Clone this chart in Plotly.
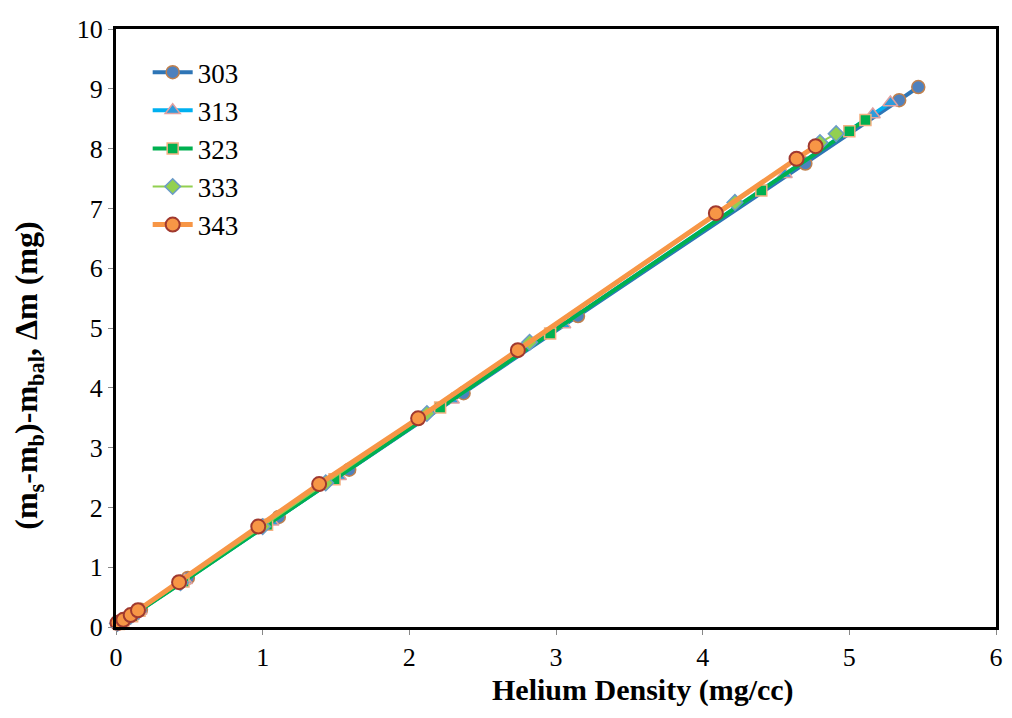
import plotly.graph_objects as go

# Helium density (mg/cc) and (ms-mb)-mbal, Δm (mg) per temperature
x_303 = [0.02, 0.06, 0.12, 0.17, 0.49, 1.11, 1.59, 2.37, 3.15, 4.70, 5.34, 5.47]
y_303 = [0.06, 0.12, 0.21, 0.29, 0.82, 1.84, 2.63, 3.91, 5.20, 7.75, 8.81, 9.03]

x_313 = [0.02, 0.05, 0.11, 0.16, 0.47, 1.06, 1.52, 2.29, 3.05, 4.56, 5.16, 5.28]
y_313 = [0.05, 0.10, 0.19, 0.27, 0.78, 1.76, 2.52, 3.80, 5.06, 7.57, 8.57, 8.77]

x_323 = [0.02, 0.05, 0.11, 0.16, 0.46, 1.03, 1.49, 2.21, 2.96, 4.40, 5.00, 5.11]
y_323 = [0.05, 0.10, 0.18, 0.27, 0.76, 1.71, 2.47, 3.67, 4.91, 7.30, 8.29, 8.48]

x_333 = [0.01, 0.05, 0.10, 0.15, 0.44, 1.00, 1.43, 2.12, 2.82, 4.22, 4.80, 4.91]
y_333 = [0.06, 0.10, 0.18, 0.26, 0.74, 1.68, 2.41, 3.57, 4.76, 7.10, 8.10, 8.25]

x_343 = [0.01, 0.05, 0.10, 0.15, 0.43, 0.97, 1.385, 2.06, 2.74, 4.09, 4.64, 4.77]
y_343 = [0.07, 0.12, 0.20, 0.28, 0.75, 1.68, 2.39, 3.49, 4.63, 6.92, 7.83, 8.04]

x_ticks = [0, 1, 2, 3, 4, 5, 6]
y_ticks = [0, 1, 2, 3, 4, 5, 6, 7, 8, 9, 10]

x_title = "<b>Helium Density (mg/cc)</b>"
y_title = "<b>(m<sub>s</sub>-m<sub>b</sub>)-m<sub>bal</sub>, Δm (mg)</b>"

series = [
    ("303", x_303, y_303, dict(color="#2E75B6", width=4),
     dict(symbol="circle", size=13, color="#4F81BD", line=dict(color="#C0804D", width=1.5))),
    ("313", x_313, y_313, dict(color="#00B0F0", width=4),
     dict(symbol="triangle-up", size=13, color="#2E9BDB", line=dict(color="#E0A0A0", width=1.5))),
    ("323", x_323, y_323, dict(color="#00B050", width=4),
     dict(symbol="square", size=11, color="#00B050", line=dict(color="#F4B183", width=1.5))),
    ("333", x_333, y_333, dict(color="#92D050", width=2),
     dict(symbol="diamond", size=12, color="#92D050", line=dict(color="#6A9BC8", width=1.5))),
    ("343", x_343, y_343, dict(color="#F79646", width=5),
     dict(symbol="circle", size=14, color="#F79646", line=dict(color="#A0392F", width=2))),
]

fig = go.Figure()
for name, xs, ys, ln, mk in series:
    fig.add_trace(go.Scatter(x=xs, y=ys, name=name, mode="lines+markers",
                             line=ln, marker=mk, cliponaxis=False))

serif = "Liberation Serif, Times New Roman, serif"
fig.update_layout(
    width=1012, height=718,
    margin=dict(l=116, r=9, t=29, b=91),
    paper_bgcolor="white", plot_bgcolor="white",
    font=dict(family=serif, size=26, color="black"),
    showlegend=True,
    legend=dict(x=0.036, y=0.968, xanchor="left", yanchor="top",
                font=dict(family=serif, size=27, color="black"),
                bgcolor="rgba(0,0,0,0)", itemwidth=40, tracegroupgap=0),
    xaxis=dict(range=[0, 6], tickvals=x_ticks, showgrid=False, zeroline=False,
               showline=True, mirror=True, linecolor="black", linewidth=3,
               ticks="outside", ticklen=5, tickcolor="#888888",
               tickfont=dict(family=serif, size=26), ticklabelstandoff=0),
    yaxis=dict(range=[0, 10], tickvals=y_ticks, showgrid=False, zeroline=False,
               showline=True, mirror=True, linecolor="black", linewidth=3,
               ticks="outside", ticklen=5, tickcolor="#888888",
               tickfont=dict(family=serif, size=26), ticklabelstandoff=0),
    annotations=[
        dict(text=x_title, xref="paper", yref="paper", x=0.599, y=-0.105,
             xanchor="center", yanchor="middle", showarrow=False,
             font=dict(family=serif, size=30, color="black")),
        dict(text=y_title, xref="paper", yref="paper", x=-0.099, y=0.42,
             xanchor="center", yanchor="middle", showarrow=False, textangle=-90,
             font=dict(family=serif, size=32, color="black")),
    ],
)

fig.write_html("out.html")
